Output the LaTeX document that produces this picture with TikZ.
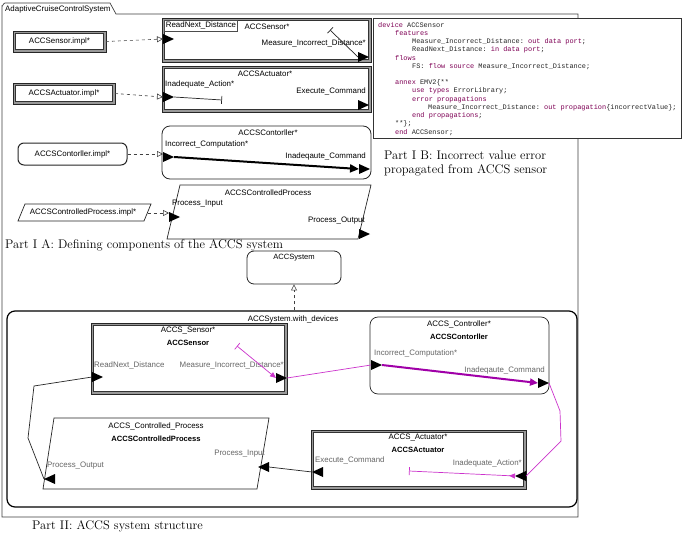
\documentclass[tikz,border=0pt]{standalone}
\usepackage{fontspec}
\setmonofont{Liberation Mono}
\newfontfamily\lsans{Liberation Sans}
\usetikzlibrary{arrows.meta}
\definecolor{kwc}{HTML}{7F0055}
\definecolor{flowm}{HTML}{A000A8}
\definecolor{flowl}{HTML}{CC33CC}
\newcommand\kw[1]{\textcolor{kwc}{#1}}
\newcommand\devbox[5]{%
  \pgfmathsetmacro\dbw{#4-#2}\pgfmathsetmacro\dbh{#5-#3}%
  \pgfmathsetmacro\dbwi{#4-#2-5}\pgfmathsetmacro\dbhi{#5-#3-5}%
  \node[devouter, minimum width=\dbw pt, minimum height=\dbh pt] (#1) at ({(#2+#4)/2},{(#3+#5)/2}) {};
  \node[devinner, minimum width=\dbwi pt, minimum height=\dbhi pt] (#1-in) at (#1.center) {};}
% port pointing right: base x, y
\newcommand\portR[3]{%
  \coordinate (#1-b) at (#2,#3); \coordinate (#1-a) at (#2+11,#3);
  \fill[black] (#2,#3-5) -- (#2+11,#3) -- (#2,#3+5) -- cycle;}
% port pointing left: apex x, y
\newcommand\portL[3]{%
  \coordinate (#1-a) at (#2,#3); \coordinate (#1-b) at (#2+11,#3);
  \fill[black] (#2+11,#3-5) -- (#2,#3) -- (#2+11,#3+5) -- cycle;}
\begin{document}
\begin{tikzpicture}[x=1pt,y=-1pt,
  lbl/.style={font=\lsans\fontsize{7.9}{9}\selectfont, inner sep=0pt},
  blbl/.style={lbl, font=\lsans\bfseries\fontsize{7.6}{9}\selectfont},
  glbl/.style={lbl, text=black!60},
  devouter/.style={draw=black!85, fill=black!40, line width=0.6pt, inner sep=0pt, outer sep=0pt, rectangle},
  devinner/.style={draw=black!80, fill=white, line width=0.5pt, inner sep=0pt, outer sep=0pt, rectangle},
  rbox/.style={draw=black!85, line width=0.8pt, rounded corners=7pt, fill=white, inner sep=0pt, rectangle},
  para/.style={draw=black!85, line width=0.7pt, fill=white},
  real/.style={dashed, draw=black!75, line width=0.6pt, -{Triangle[open,length=6pt,width=6pt]}},
  conn/.style={draw=black!85, line width=0.7pt},
  mconn/.style={draw=flowl, line width=0.7pt},
  code/.style={font=\ttfamily\fontsize{6.9}{8}\selectfont, inner sep=0pt, anchor=base west, text=black!85},
  captxt/.style={font=\fontsize{12.5}{14}\selectfont, inner sep=0pt, anchor=west}]
\useasboundingbox (0,0) rectangle (683,533);
\fill[white] (0,0) rectangle (683,533);

% ---------- outer package frame
\draw[black!75, line width=0.7pt] (2,517) -- (2,6) to[out=-90,in=180] (5,3) -- (110,3) -- (116,14) -- (578,14) -- (578,517) -- cycle;
\node[lbl, anchor=west] (pkglbl) at (5,9) {AdaptiveCruiseControlSystem};

% ---------- code box
\node[draw=black!80, fill=white, line width=0.6pt, minimum width=308pt, minimum height=120pt, inner sep=0pt] (codebox) at (527,78) {};
\node[code] at (378,27.5) {\kw{device} ACCSensor};
\node[code] at (395,35.5) {\kw{features}};
\node[code] at (412,43.5) {Measure\_Incorrect\_Distance: \kw{out data port};};
\node[code] at (412,51.5) {ReadNext\_Distance: \kw{in data port};};
\node[code] at (395,60) {\kw{flows}};
\node[code] at (412,68.5) {FS: \kw{flow source} Measure\_Incorrect\_Distance;};
\node[code] at (395,84.5) {\kw{annex} EMV2\{**};
\node[code] at (412,92.5) {\kw{use types} ErrorLibrary;};
\node[code] at (412,101) {\kw{error propagations}};
\node[code] at (428,109.5) {Measure\_Incorrect\_Distance: \kw{out propagation}\{incorrectValue\};};
\node[code] at (412,117.5) {\kw{end propagations};};
\node[code] at (395,125.5) {**\};};
\node[code] at (395,134) {\kw{end} ACCSensor;};
\node[captxt] (capIB1) at (384,155) {Part I B: Incorrect value error};
\node[captxt] (capIB2) at (384,170) {propagated from ACCS sensor};

% ---------- Part I A : implementations
\devbox{sImpl}{13}{31}{106}{52}
\node[lbl] at (sImpl.center) {ACCSensor.impl*};
\devbox{aImpl}{13}{83}{115}{104}
\node[lbl] at (aImpl.center) {ACCSActuator.impl*};
\node[rbox, line width=1pt, rounded corners=6pt, minimum width=109pt, minimum height=22pt, font=\lsans\fontsize{7.9}{9}\selectfont] (cImpl) at (72.5,154) {ACCSContorller.impl*};
\coordinate (pi1) at (25,204); \coordinate (pi2) at (151,204);
\coordinate (pi3) at (144,221); \coordinate (pi4) at (18,221);
\path[para] (pi1) -- (pi2) -- (pi3) -- (pi4) -- cycle;
\node[lbl] (pImpl) at (83,212.5) {ACCSControlledProcess.impl*};
\coordinate (pImplE) at (147.5,213);

% ---------- Part I A : types
% sensor type
\devbox{sType}{162}{18}{371}{62}
\node[draw=black!70, line width=0.4pt, minimum width=73pt, minimum height=11pt, inner sep=0pt] (rnbox) at (201,25.5) {};
\node[lbl] at (rnbox.center) {ReadNext\_Distance};
\node[lbl] at (267,27) {ACCSensor*};
\node[lbl, anchor=east] at (366,43) {Measure\_Incorrect\_Distance*};
\portR{sTin}{163}{39}
\portR{sTout}{358}{57}
\coordinate (sTsrc) at (330,30);
\draw[black!85, line width=0.7pt, {Bar[width=8pt]}-] (sTsrc) -- (sTout-b);

% actuator type
\devbox{aType}{162}{66}{371}{112}
\node[lbl] at (265,74) {ACCSActuator*};
\node[lbl, anchor=west] at (165,84) {Inadequate\_Action*};
\node[lbl, anchor=east] at (366,91) {Execute\_Command};
\portR{aTin}{163}{97}
\portR{aTout}{358}{105}
\coordinate (aTsink) at (222,100);
\draw[black!85, line width=0.7pt, -{Bar[width=8pt]}] (aTin-a) -- (aTsink);

% controller type
\node[rbox, rounded corners=8pt, minimum width=209pt, minimum height=53pt] (cType) at (266.5,152.5) {};
\node[lbl] at (268,133) {ACCSContorller*};
\node[lbl, anchor=west] at (165,144) {Incorrect\_Computation*};
\node[lbl, anchor=east] at (366,156) {Inadeqaute\_Command};
\portR{cTin}{163}{157}
\portR{cTout}{359}{169}
\draw[black, line width=2pt, -{Triangle[length=9pt,width=8pt]}] (cTin-a) -- (cTout-b);

% controlled process type
\coordinate (pt1) at (180,185); \coordinate (pt2) at (371,185);
\coordinate (pt3) at (358,239); \coordinate (pt4) at (167,239);
\path[para] (pt1) -- (pt2) -- (pt3) -- (pt4) -- cycle;
\node[lbl] (pType) at (268,193) {ACCSControlledProcess};
\node[lbl, anchor=west] at (172,203.5) {Process\_Input};
\node[lbl, anchor=east] at (365,221) {Process\_Output};
\portR{pTin}{169}{217}
\portR{pTout}{359}{234}

% realization arrows
\draw[real] (sImpl.east) -- (sTin-b);
\draw[real] (aImpl.east) -- (aTin-b);
\draw[real] (cImpl.east) -- (cTin-b |- cImpl.east);
\draw[real] (pImplE) -- (pTin-b |- pImplE);

\node[captxt] (capIA) at (5,245) {Part I A: Defining components of the ACCS system};

% ---------- ACCSystem
\node[rbox, rounded corners=7pt, minimum width=94pt, minimum height=33pt] (sys) at (294,267.5) {};
\node[lbl, font=\lsans\fontsize{7.6}{9}\selectfont] at (294,258) {ACCSystem};

% ---------- Part II: ACCSystem.with_devices
\node[draw=black, line width=1.2pt, rounded corners=8pt, minimum width=570pt, minimum height=196pt, inner sep=0pt] (impl) at (292,409) {};
\node[lbl] at (293,319) {ACCSystem.with\_devices};
\draw[real] (sys.south |- impl.north) -- (sys.south);

% sensor subcomponent
\devbox{S}{91}{323}{287}{394}
\node[lbl] at (188,331) {ACCS\_Sensor*};
\node[blbl] at (188,343) {ACCSensor};
\node[glbl, anchor=west] at (94,365) {ReadNext\_Distance};
\node[glbl, anchor=east] at (284,365) {Measure\_Incorrect\_Distance*};
\portR{Sin}{92}{377}
\portR{Sout}{276}{378}
\coordinate (Ssrc) at (237,346);
\draw[flowl, line width=0.7pt, {Bar[width=8pt]}-{Triangle[length=6pt,width=5pt]}] (Ssrc) -- (Sout-b);

% controller subcomponent
\node[rbox, rounded corners=8pt, line width=0.7pt, minimum width=179pt, minimum height=77pt] (C) at (459.5,355.5) {};
\node[lbl] at (459,324) {ACCS\_Controller*};
\node[blbl] at (459,337) {ACCSContorller};
\node[glbl, anchor=west] at (374,353) {Incorrect\_Computation*};
\node[glbl, anchor=east] at (545,370) {Inadeqaute\_Command};
\portR{Cin}{371}{365}
\portR{Cout}{538}{383}
\draw[flowm, line width=2pt, -{Triangle[length=8pt,width=7pt]}] (Cin-a) -- (Cout-b);

% actuator subcomponent
\devbox{A}{311}{430}{526}{489}
\node[lbl] at (418,438) {ACCS\_Actuator*};
\node[blbl] at (418,450) {ACCSActuator};
\node[glbl, anchor=west] at (315,460) {Execute\_Command};
\node[glbl, anchor=east] at (522,463) {Inadequate\_Action*};
\portL{Aout}{312}{472}
\portL{Ain}{515}{476}
\coordinate (Asink) at (409,471);
\draw[flowl, line width=0.7pt, {Triangle[reversed,length=6pt,width=5pt]}-{Bar[width=8pt]}] (Ain-a) -- (Asink);

% controlled process subcomponent
\coordinate (P1) at (54,418); \coordinate (P2) at (269,418);
\coordinate (P3) at (257,489); \coordinate (P4) at (43,489);
\path[para] (P1) -- (P2) -- (P3) -- (P4) -- cycle;
\node[lbl] (P) at (156,426) {ACCS\_Controlled\_Process};
\node[blbl] at (156,439) {ACCSControlledProcess};
\node[glbl, anchor=east] at (265,454) {Process\_Input};
\node[glbl, anchor=west] at (47,466) {Process\_Output};
\portL{Pin}{258}{467}
\portL{Pout}{44}{479}

% connections
\draw[mconn] (Sout-a) -- (Cin-b);
\coordinate (m1) at (560,411); \coordinate (m2) at (561,441);
\draw[mconn] (Cout-a) -- (m1) -- (m2) -- (Ain-b);
\draw[conn] (Aout-a) -- (Pin-b);
\coordinate (k1) at (28,438); \coordinate (k2) at (34,386);
\draw[conn] (Pout-a) -- (k1) -- (k2) -- (Sin-b);

\node[captxt] (capII) at (32,526) {Part II: ACCS system structure};
\end{tikzpicture}
\end{document}
